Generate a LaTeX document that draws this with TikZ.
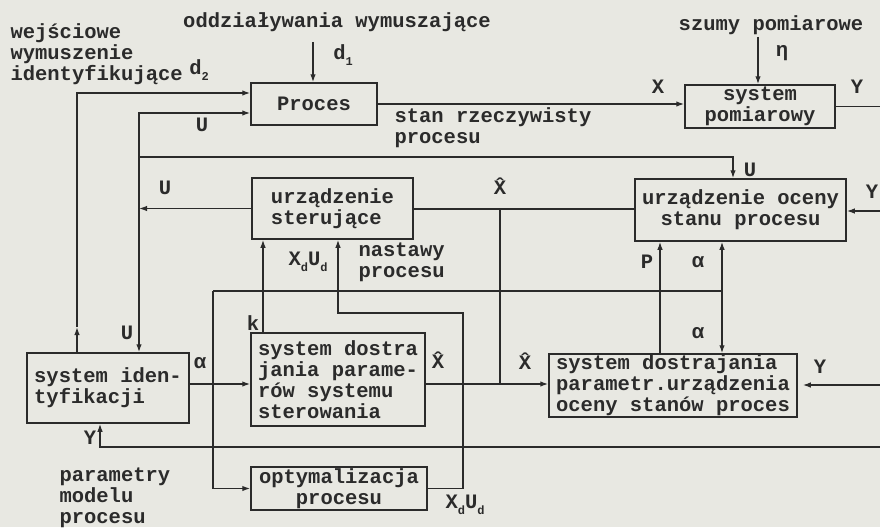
\documentclass[tikz,border=0pt]{standalone}
\usepackage{fontspec}
\setmainfont{Liberation Mono}
\usetikzlibrary{arrows.meta,calc}
\definecolor{paper}{HTML}{E8E8E2}
\definecolor{ink}{HTML}{2B2B2B}
\newcommand{\lowsub}[1]{\raisebox{-0.6ex}{\fontsize{12}{12}\selectfont #1}}

\begin{document}
\begin{tikzpicture}[
		x=1pt,
		y=-1pt,
		>=Latex,
		every node/.style={font=\fontsize{20.5}{21}\selectfont\bfseries,text=ink},
		blok/.style={draw=ink,line width=1.5pt,fill=paper,inner sep=0pt},
		sig/.style={-{Latex[length=8pt,width=5.5pt]},draw=ink,line width=1.4pt},
		wire/.style={draw=ink,line width=1.4pt}
	]
	
	% Paper
	\fill[paper] (0,0) rectangle (880,527);
	\useasboundingbox (0,0) rectangle (880,527);
	
	% Blocks
	\node[blok,minimum width=126pt,minimum height=42pt] (proc) at (314,104) {Proces};
	\node[blok,minimum width=150pt,minimum height=43pt,align=center] (pomiar) at (760,106.5) {system\\pomiarowy};
	\node[blok,minimum width=211pt,minimum height=62pt,align=center] (ocena) at (740.5,210) {urządzenie oceny\\stanu procesu};
	\node[blok,minimum width=161pt,minimum height=61pt,align=left] (ster) at (332.5,208.5) {urządzenie\\sterujące};
	\node[blok,minimum width=174pt,minimum height=93pt,align=left] (dostrs) at (338,379.5) {system dostra\\jania parame-\\rów systemu\\sterowania};
	\node[blok,minimum width=176pt,minimum height=43pt,align=center] (optym) at (339,488.5) {optymalizacja\\procesu};
	\node[blok,minimum width=162pt,minimum height=70pt,align=left] (ident) at (108,388) {system iden-\\tyfikacji};
	\node[blok,minimum width=248pt,minimum height=63pt,align=left] (dostro) at (673,385.5) {system dostrajania\\parametr.urządzenia\\oceny stanów proces};
	
	% Junctions and free ends
	\coordinate (dtop) at (77,93);
	\coordinate (dmid) at (77,327);
	\coordinate (ujn) at (139,208.5);
	\coordinate (uin) at (139,113);
	\coordinate (ubr) at (139,157);
	\coordinate (uoc) at (733,157);
	\coordinate (d1top) at (313,42);
	\coordinate (etatop) at (758,37);
	\coordinate (yout) at (880,106.5);
	\coordinate (yoc) at (880,211);
	\coordinate (ydo) at (880,385);
	\coordinate (yid) at (880,447);
	\coordinate (yidx) at (100,447);
	\coordinate (xhj) at (500,209);
	\coordinate (xhb) at (500,384);
	\coordinate (ajl) at (213,291);
	\coordinate (ajr) at (722,291);
	\coordinate (aid) at (213,384);
	\coordinate (px) at (660,300);
	\coordinate (kx) at (263,300);
	\coordinate (xdc) at (463,313);
	\coordinate (xdx) at (338,313);
	
	% Identification input
	\draw[sig] (ident.north -| dtop) -- (dmid);
	\draw[sig] (dmid) |- (proc.west |- dtop);
	
	% Control U
	\draw[sig] (ster.west) -- (ujn);
	\draw[sig] (ujn) |- (proc.west |- uin);
	\draw[sig] (ujn) -- (ident.north -| ujn);
	\draw[sig] (ubr) -| (ocena.north -| uoc);
	
	% Process state and disturbances
	\draw[sig] (proc.east) -- (proc.east -| pomiar.west);
	\draw[sig] (d1top) -- (d1top |- proc.north);
	\draw[sig] (etatop) -- (etatop |- pomiar.north);
	
	% Measurements Y
	\draw[wire] (pomiar.east) -- (yout);
	\draw[sig] (yoc) -- (ocena.east |- yoc);
	\draw[sig,shorten >=5pt] (ydo) -- (dostro.east |- ydo);
	\draw[sig] (yid) -- (yidx) -- (ident.south -| yidx);
	
	% State estimate
	\draw[wire] (ocena.west |- xhj) -- (ster.east |- xhj);
	\draw[wire] (xhj) -- (xhb);
	\draw[sig] (dostrs.east |- xhb) -- (dostro.west |- xhb);
	
	% Model parameters alpha
	\draw[sig] (ident.east |- aid) -- (dostrs.west |- aid);
	\draw[sig] (ajl) |- (optym.west);
	\draw[wire] (ajl) -- (ajr);
	\draw[sig] (ajr) -- (ocena.south -| ajr);
	\draw[sig] (ajr) -- (dostro.north -| ajr);
	
	% Tuning outputs
	\draw[sig] (dostro.north -| px) -- (ocena.south -| px);
	\draw[sig] (dostrs.north -| kx) -- (ster.south -| kx);
	\draw[sig] (optym.east) -| (xdc) -- (xdx) -- (ster.south -| xdx);
	
	% Labels
	\node[anchor=west,align=left] (lwej) at (7,54) {wejściowe\\wymuszenie\\identyfikujące};
	\node (lodd) at (337,22) {oddziaływania wymuszające};
	\node (lszum) at (771,25) {szumy pomiarowe};
	\node (ld2) at (199,70) {d\lowsub{2}};
	\node (ld1) at (343,55) {d\lowsub{1}};
	\node (leta) at (782,53) {η};
	\node (lx) at (658,87) {X};
	\node (ly1) at (857,87) {Y};
	\node[anchor=west,align=left] (lstan) at (391,128) {stan rzeczywisty\\procesu};
	\node (lu1) at (202,125) {U};
	\node (lu2) at (750,170) {U};
	\node (lu3) at (165,188) {U};
	\node (lxh1) at (500,186) {\^{X}};
	\node (ly2) at (872,192) {Y};
	\node (lxdud1) at (308,262) {X\lowsub{d}U\lowsub{d}};
	\node[anchor=west,align=left] (lnast) at (355,262) {nastawy\\procesu};
	\node (lp) at (647,262) {P};
	\node (la1) at (698,262) {α};
	\node (lk) at (253,323) {k};
	\node (lu4) at (127,333) {U};
	\node (la2) at (698,333) {α};
	\node (la3) at (200,363) {α};
	\node (lxh2) at (438,360) {\^{X}};
	\node (lxh3) at (525,361) {\^{X}};
	\node (ly3) at (820,367) {Y};
	\node (ly4) at (90,438) {Y};
	\node[anchor=west,align=left] (lpar) at (56,498) {parametry\\modelu\\procesu};
	\node (lxdud2) at (465,505) {X\lowsub{d}U\lowsub{d}};
	
\end{tikzpicture}
\end{document}
